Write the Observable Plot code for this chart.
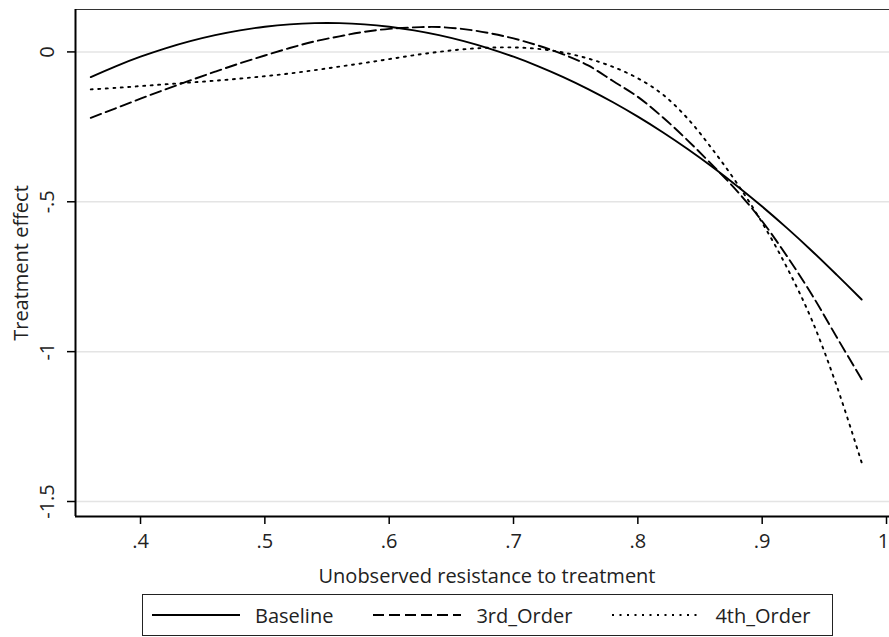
<!DOCTYPE html>
<html><head><meta charset="utf-8">
<script src="https://cdn.jsdelivr.net/npm/d3@7"></script>
<script src="https://cdn.jsdelivr.net/npm/@observablehq/plot@0.6"></script>
<style>
body{margin:0;background:#fff;font-family:"Open Sans",sans-serif;}
#wrap{position:relative;width:889px;height:637px;overflow:hidden;}
#legend{position:absolute;left:142px;top:594px;width:689px;height:40px;border:1px solid #222;display:flex;align-items:center;font-size:20px;font-weight:400;color:#222;box-sizing:content-box;}
.item{display:flex;align-items:center;padding-left:9px;}
.item + .item{padding-left:40px;}
.item span{margin-left:15px;}
</style></head><body><div id="wrap"><div id="chart"></div><div id="legend"></div></div>
<script>
const xValues = [0.36,0.38,0.40,0.42,0.44,0.46,0.48,0.50,0.52,0.54,0.56,0.58,0.60,0.62,0.64,0.66,0.68,0.70,0.72,0.74,0.76,0.78,0.80,0.82,0.84,0.86,0.88,0.90,0.92,0.94,0.96,0.98];
const baseline = [-0.084,-0.048,-0.016,0.012,0.036,0.056,0.072,0.084,0.092,0.096,0.096,0.092,0.084,0.072,0.056,0.036,0.012,-0.016,-0.048,-0.084,-0.124,-0.168,-0.216,-0.268,-0.324,-0.384,-0.448,-0.516,-0.588,-0.664,-0.744,-0.826];
const thirdOrder = [-0.220,-0.188,-0.156,-0.125,-0.095,-0.066,-0.038,-0.012,0.013,0.035,0.052,0.067,0.077,0.082,0.083,0.076,0.063,0.045,0.021,-0.008,-0.045,-0.097,-0.150,-0.218,-0.295,-0.378,-0.465,-0.565,-0.682,-0.810,-0.952,-1.092];
const fourthOrder = [-0.125,-0.120,-0.114,-0.108,-0.102,-0.096,-0.089,-0.081,-0.072,-0.061,-0.049,-0.037,-0.024,-0.011,0.000,0.009,0.014,0.015,0.010,-0.002,-0.022,-0.050,-0.088,-0.142,-0.222,-0.325,-0.440,-0.570,-0.720,-0.895,-1.115,-1.370];
const seriesNames = ["Baseline","3rd_Order","4th_Order"];
const seriesDash = ["none","11,5","2,5.5"];
const xTicks = [0.4,0.5,0.6,0.7,0.8,0.9,1];
const xTickLabels = [".4",".5",".6",".7",".8",".9","1"];
const yTicks = [0,-0.5,-1,-1.5];
const yTickLabels = ["0","-.5","-1","-1.5"];
const xDomain = [0.3477,1.0024];
const yDomain = [-1.55,0.1415];
const xTitle = "Unobserved resistance to treatment";
const yTitle = "Treatment effect";

const seriesValues = [baseline, thirdOrder, fourthOrder];
const rows = [];
seriesNames.forEach((s, k) => xValues.forEach((x, i) => rows.push({series: s, x, y: seriesValues[k][i]})));

const lineMarks = seriesNames.map((s, k) => Plot.line(rows.filter(r => r.series === s), {
  x: "x", y: "y", stroke: "#000", strokeWidth: 1.9, strokeDasharray: seriesDash[k], curve: "catmull-rom"
}));

const fmtX = d => xTickLabels[xTicks.indexOf(d)];
const innerTicks = xTicks.slice(0, -1);
const edgeTicks = xTicks.slice(-1);

const chart = Plot.plot({
  width: 889, height: 592,
  marginLeft: 75, marginRight: 0, marginTop: 9, marginBottom: 76,
  style: {fontFamily: "'Open Sans', sans-serif", fontSize: "20px", fontWeight: 400, color: "#222", background: "#fff"},
  x: {domain: xDomain},
  y: {domain: yDomain},
  marks: [
    Plot.gridY(yTicks, {stroke: "#e4e4e4", strokeOpacity: 1, strokeWidth: 1.5}),
    ...lineMarks,
    Plot.ruleY([yDomain[1]], {stroke: "#333", strokeWidth: 1.2}),
    Plot.ruleY([yDomain[0]], {stroke: "#000", strokeWidth: 2}),
    Plot.ruleX([xDomain[0]], {stroke: "#000", strokeWidth: 2}),
    Plot.axisX(xTicks, {tickSize: 8, text: null, label: null, stroke: "#000", strokeWidth: 1.5}),
    Plot.axisX(innerTicks, {tickFormat: fmtX, tickSize: 0, tickPadding: 17, label: null}),
    Plot.axisX(edgeTicks, {tickFormat: fmtX, tickSize: 0, tickPadding: 17, label: null, dx: -3}),
    Plot.axisY(yTicks, {tickFormat: d => yTickLabels[yTicks.indexOf(d)], tickSize: 8, tickPadding: 14, tickRotate: -90, label: null, stroke: "#000", strokeWidth: 1.5}),
    Plot.text([xTitle], {text: d => d, frameAnchor: "bottom", textAnchor: "middle", lineAnchor: "bottom", dy: 66, dx: 4.5, fill: "#222"}),
    Plot.text([yTitle], {text: d => d, frameAnchor: "left", textAnchor: "middle", lineAnchor: "bottom", rotate: -90, dx: -48, fill: "#222"})
  ]
});
document.getElementById("chart").appendChild(chart);

const legend = document.getElementById("legend");
seriesNames.forEach((s, k) => {
  const item = document.createElement("div");
  item.className = "item";
  item.innerHTML = `<svg width="88" height="10"><line x1="0" x2="88" y1="5" y2="5" stroke="#000" stroke-width="1.8" ${seriesDash[k] === "none" ? "" : `stroke-dasharray="${seriesDash[k]}"`}/></svg><span>${s}</span>`;
  legend.appendChild(item);
});
</script></body></html>
